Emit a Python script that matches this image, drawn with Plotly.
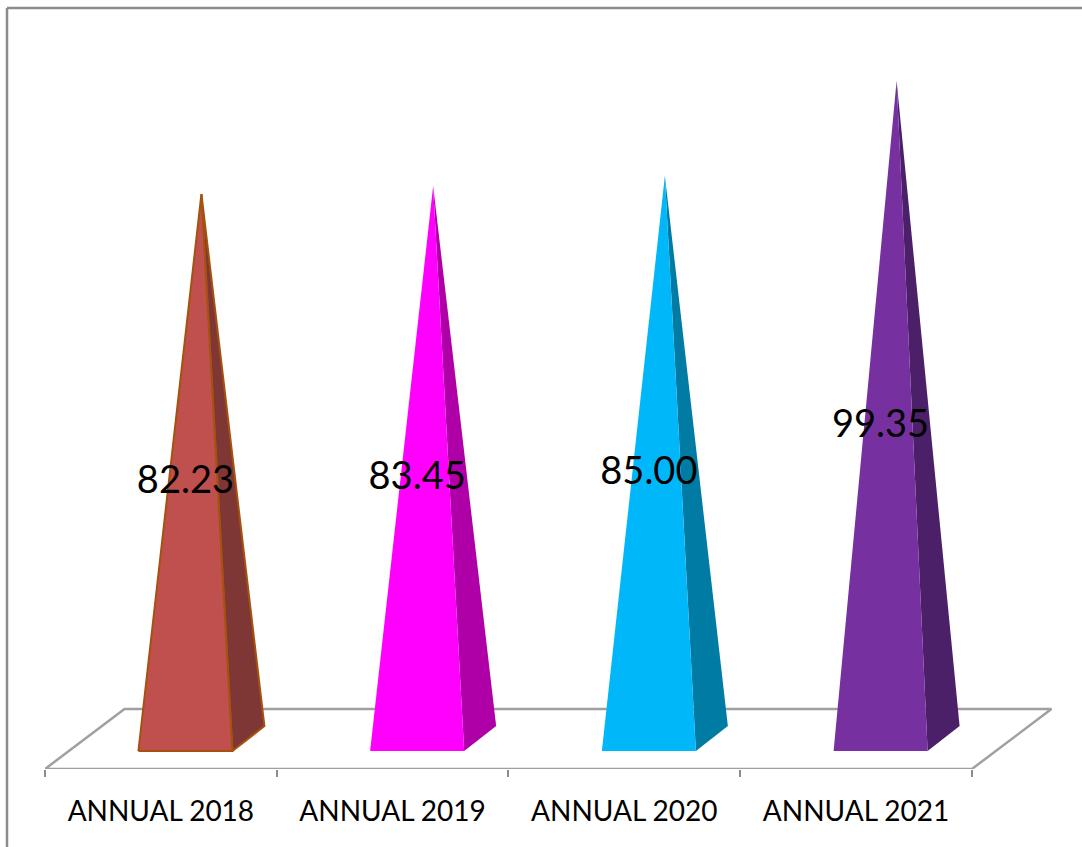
import plotly.graph_objects as go

categories = ["ANNUAL 2018", "ANNUAL 2019", "ANNUAL 2020", "ANNUAL 2021"]
values = [82.23, 83.45, 85.00, 99.35]
value_labels = ["82.23", "83.45", "85.00", "99.35"]
front_colors = ["#C0504D", "#FF00FF", "#00B7FA", "#7730A0"]
side_colors = ["#7F3735", "#AE00A6", "#007BA3", "#4B2068"]
edge_colors = ["#A5520F", None, None, None]

# projection of the oblique 3D pyramid, in axis units
BAR_LEFT, BAR_RIGHT = -0.0969, 0.3088
BAR_DEPTH_X, BAR_DEPTH_Y = 0.138, 3.78
BAR_FRONT_Y = -1.89
FLOOR_DEPTH_X = 0.343
FLOOR_FRONT_Y, FLOOR_BACK_Y = -4.6, 4.46

fig = go.Figure()

n = len(categories)
floor_x = [-0.5, n - 0.5, n - 0.5 + FLOOR_DEPTH_X, -0.5 + FLOOR_DEPTH_X, -0.5]
floor_y = [FLOOR_FRONT_Y, FLOOR_FRONT_Y, FLOOR_BACK_Y, FLOOR_BACK_Y, FLOOR_FRONT_Y]
fig.add_trace(go.Scatter(x=floor_x, y=floor_y, mode="lines", cliponaxis=False,
                         line=dict(color="#A0A0A0", width=2.5), hoverinfo="skip"))

for i, v in enumerate(values):
    fl = i + BAR_LEFT
    fr = i + BAR_RIGHT
    br = fr + BAR_DEPTH_X
    apex = (fl + br) / 2
    edge = edge_colors[i]
    line = dict(color=edge, width=2) if edge else dict(width=0)
    fig.add_trace(go.Scatter(x=[fr, br, apex, fr],
                             y=[BAR_FRONT_Y, BAR_FRONT_Y + BAR_DEPTH_Y, v, BAR_FRONT_Y],
                             mode="lines", fill="toself", fillcolor=side_colors[i],
                             line=line, cliponaxis=False, hoverinfo="skip"))
    fig.add_trace(go.Scatter(x=[fl, fr, apex, fl],
                             y=[BAR_FRONT_Y, BAR_FRONT_Y, v, BAR_FRONT_Y],
                             mode="lines", fill="toself", fillcolor=front_colors[i],
                             line=line, cliponaxis=False, hoverinfo="skip"))

fig.add_trace(go.Scatter(
    x=[i + (BAR_LEFT + BAR_RIGHT) / 2 for i in range(n)],
    y=[v * 0.492 - 1.93 for v in values],
    mode="text", text=value_labels, textposition="middle center",
    textfont=dict(family="Lato", size=38, color="#000000"),
    cliponaxis=False, hoverinfo="skip"))

plot_width = 1082 - 45
frame_left = (7 - 45) / plot_width
frame_top = (769 - 8) / 769
for sh in (dict(x0=frame_left, x1=frame_left, y0=-78 / 769, y1=frame_top),
           dict(x0=frame_left, x1=1.0, y0=frame_top, y1=frame_top)):
    fig.add_shape(type="line", xref="paper", yref="paper",
                  line=dict(color="#8C8C8C", width=2.5), **sh)

fig.update_layout(
    width=1082, height=847, showlegend=False,
    margin=dict(l=45, r=0, t=0, b=78, pad=0),
    paper_bgcolor="#FFFFFF", plot_bgcolor="#FFFFFF",
    xaxis=dict(range=[-0.5, 3.975], tickmode="array", tickvals=list(range(n)),
               ticktext=categories, showgrid=False, zeroline=False,
               showline=False,
               ticks="outside", ticklen=17, tickcolor="rgba(0,0,0,0)",
               tickfont=dict(family="Lato", size=28, color="#000000"),
               minor=dict(tickmode="array", tickvals=[k - 0.5 for k in range(n + 1)],
                          ticks="outside", ticklen=7, tickcolor="#8C8C8C", tickwidth=2,
                          showgrid=False)),
    yaxis=dict(range=[FLOOR_FRONT_Y, 111.56], visible=False),
)

fig.write_html("out.html", config=dict(displayModeBar=False),
               post_script="document.body.style.margin='0';")
